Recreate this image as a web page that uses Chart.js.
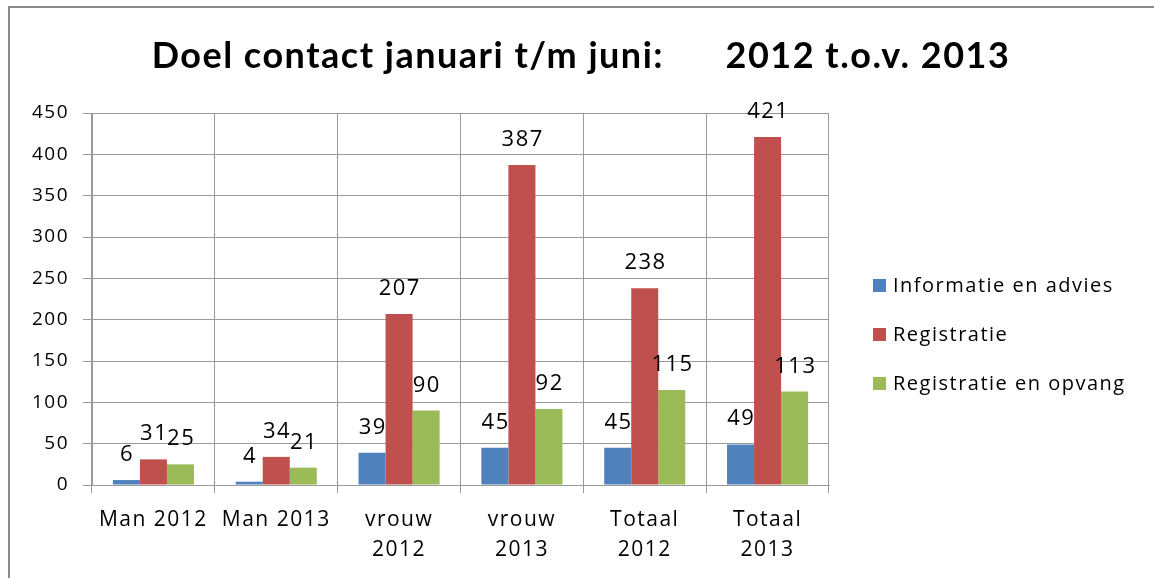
<!DOCTYPE html>
<html>
<head>
<meta charset="utf-8">
<script src="https://cdn.jsdelivr.net/npm/chart.js@4.4.0/dist/chart.umd.min.js"></script>
<style>
  html, body { margin: 0; padding: 0; background: #fff; }
  #wrap { position: relative; width: 1154px; height: 578px; overflow: hidden; }
  #frame { position: absolute; left: 8px; top: 6px; width: 1200px; height: 640px; border-left: 2px solid #8a8a8a; border-top: 2px solid #8a8a8a; box-sizing: border-box; }
  canvas { position: absolute; left: 0; top: 0; }
</style>
</head>
<body>
<div id="wrap">
  <div id="frame"></div>
  <canvas id="c" width="1154" height="578"></canvas>
</div>
<script>
const titleText = "Doel contact januari t/m juni:      2012 t.o.v. 2013";
const categories = [["Man 2012"], ["Man 2013"], ["vrouw", "2012"], ["vrouw", "2013"], ["Totaal", "2012"], ["Totaal", "2013"]];
const seriesNames = ["Informatie en advies", "Registratie", "Registratie en opvang"];
const infoAdvies = [6, 4, 39, 45, 45, 49];
const registratie = [31, 34, 207, 387, 238, 421];
const registratieOpvang = [25, 21, 90, 92, 115, 113];
const yTicks = [0, 50, 100, 150, 200, 250, 300, 350, 400, 450];
const colors = ["#4F81BD", "#C0504D", "#9BBB59"];

const FONT = "'Open Sans', 'DejaVu Sans', sans-serif";

const spacingPlugin = {
  id: 'spacing',
  beforeDraw(chart) { chart.ctx.letterSpacing = "1.5px"; }
};

const labelPlugin = {
  id: 'valueLabels',
  afterDatasetsDraw(chart) {
    const ctx = chart.ctx;
    ctx.save();
    ctx.letterSpacing = "1.5px";
    ctx.font = "22px " + FONT;
    ctx.fillStyle = "#000";
    ctx.textAlign = "center";
    ctx.textBaseline = "alphabetic";
    chart.data.datasets.forEach((ds, i) => {
      const meta = chart.getDatasetMeta(i);
      meta.data.forEach((bar, j) => {
        ctx.fillText(String(ds.data[j]), bar.x + 0.75, bar.y - 19);
      });
    });
    ctx.restore();
  }
};

const titleLegendPlugin = {
  id: 'titleLegend',
  afterDraw(chart) {
    const ctx = chart.ctx;
    ctx.save();
    ctx.fillStyle = "#000";
    ctx.letterSpacing = "1.5px";
    ctx.font = "bold 36px Lato, 'Open Sans', sans-serif";
    ctx.textAlign = "center";
    ctx.textBaseline = "middle";
    ctx.fillText(titleText, 581, 56);
    // legend
    ctx.font = "20px " + FONT;
    ctx.textAlign = "left";
    chart.data.datasets.forEach((ds, i) => {
      const cy = 286 + i * 49;
      ctx.fillStyle = ds.backgroundColor;
      ctx.fillRect(873, cy - 7, 13, 13);
      ctx.fillStyle = "#000";
      ctx.fillText(ds.label, 893, cy);
    });
    ctx.restore();
  }
};

new Chart(document.getElementById('c'), {
  type: 'bar',
  data: {
    labels: categories,
    datasets: [
      { label: seriesNames[0], data: infoAdvies, backgroundColor: colors[0] },
      { label: seriesNames[1], data: registratie, backgroundColor: colors[1] },
      { label: seriesNames[2], data: registratieOpvang, backgroundColor: colors[2] }
    ]
  },
  options: {
    responsive: false,
    animation: false,
    devicePixelRatio: 1,
    layout: { padding: { top: 113, right: 325, left: 0, bottom: 0 } },
    datasets: { bar: { barPercentage: 1.0, categoryPercentage: 0.66 } },
    plugins: {
      legend: { display: false },
      title: { display: false },
      tooltip: { enabled: false }
    },
    scales: {
      x: {
        grid: { color: "#9a9a9a", lineWidth: 1, offset: true, tickLength: 8 },
        border: { color: "#9a9a9a" },
        ticks: { color: "#000", font: { family: FONT, size: 21, lineHeight: 1.43 }, padding: 12, maxRotation: 0, autoSkip: false },
        afterFit(scale) { scale.height = 93; }
      },
      y: {
        min: 0, max: 450,
        afterBuildTicks(scale) { scale.ticks = yTicks.map(v => ({ value: v })); },
        grid: { color: "#9a9a9a", lineWidth: 1, tickLength: 9 },
        border: { color: "#9a9a9a" },
        ticks: { color: "#000", font: { family: FONT, size: 19 }, padding: 14 },
        afterFit(scale) { scale.width = 92; }
      }
    }
  },
  plugins: [spacingPlugin, labelPlugin, titleLegendPlugin]
});
</script>
</body>
</html>
